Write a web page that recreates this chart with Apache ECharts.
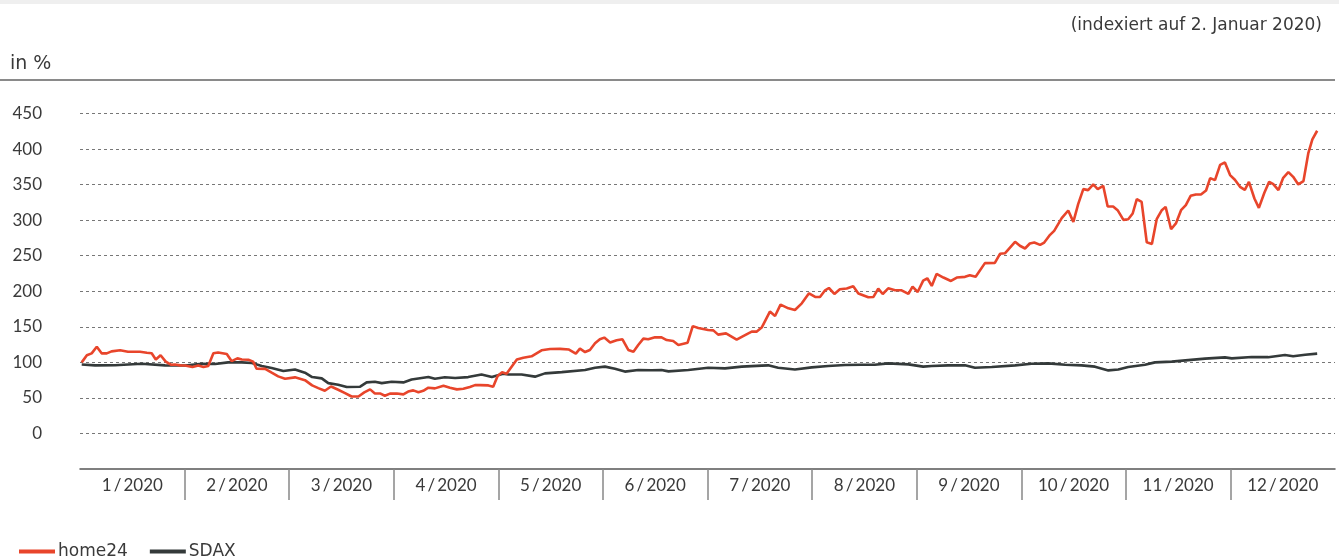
<!DOCTYPE html>
<html>
<head>
<meta charset="utf-8">
<script src="https://cdn.jsdelivr.net/npm/echarts@6/dist/echarts.min.js"></script>
<style>
  html, body { margin: 0; padding: 0; background: #fff; }
  #chart { width: 1339px; height: 556px; }
</style>
</head>
<body>
<div id="chart"></div>
<script>
// Kursentwicklung 2020, indexiert auf 2. Januar 2020 (x = Tag des Jahres)
var monthLabels = ['1/2020', '2/2020', '3/2020', '4/2020', '5/2020', '6/2020',
                   '7/2020', '8/2020', '9/2020', '10/2020', '11/2020', '12/2020'];

var home24Day = [0.5, 2.0, 3.4, 4.9, 6.3, 7.8, 9.2, 11.7, 14.0, 17.5, 19.5, 20.9, 22.1, 23.5, 25.0, 26.5, 27.7, 29.2,
  30.6, 32.8, 34.5, 36.0, 37.4, 38.9, 40.3, 42.8, 44.2, 45.9, 47.2, 49.1, 50.5, 51.5, 54.0, 55.9, 57.8, 59.8,
  62.7, 65.6, 67.7, 69.5, 71.4, 73.2, 75.3, 77.3, 79.2, 81.2, 82.9, 84.6, 86.0, 87.5, 88.9, 90.4, 92.4, 94.3,
  95.7, 97.2, 98.7, 100.1, 101.6, 103.5, 106.0, 107.9, 109.9, 111.8, 113.7, 115.2, 116.7, 119.1, 120.5, 121.8,
  123.1, 124.4, 127.4, 129.3, 131.7, 134.6, 137.1, 140.0, 142.6, 144.6, 145.8, 147.3, 148.7, 150.2, 151.6,
  152.9, 154.6, 156.5, 158.2, 159.9, 161.4, 162.8, 164.3, 165.7, 167.7, 169.6, 171.1, 173.0, 174.5, 177.2,
  178.7, 180.3, 183.2, 184.7, 186.1, 188.4, 191.5, 193.4, 195.9, 197.3, 198.8, 201.2, 202.7, 204.3, 206.6,
  208.5, 210.5, 212.6, 214.4, 215.8, 217.3, 218.4, 220.0, 221.6, 223.6, 225.5, 227.0, 229.9, 231.4, 232.8,
  234.1, 235.7, 237.7, 239.6, 241.6, 242.8, 244.3, 245.9, 247.1, 248.4, 249.8, 251.8, 254.0, 255.7, 258.1,
  259.5, 261.2, 263.9, 266.8, 268.3, 269.8, 272.7, 274.1, 275.6, 277.0, 278.3, 280.0, 281.2, 282.9, 284.1,
  286.3, 288.2, 289.7, 291.1, 292.6, 294.0, 295.5, 296.8, 298.4, 299.7, 301.3, 302.6, 304.3, 305.7, 307.0,
  308.2, 309.6, 311.1, 312.6, 314.0, 315.5, 316.6, 318.2, 319.6, 321.1, 322.5, 323.9, 325.4, 326.9, 328.4,
  329.6, 331.0, 332.5, 333.9, 335.4, 336.8, 338.3, 339.7, 340.9, 342.5, 343.8, 345.4, 346.8, 348.0, 349.5,
  350.9, 352.4, 353.8, 355.3, 356.8, 358.2, 359.4, 360.8];
var home24Value = [100, 110, 112.7, 122, 112.7, 112.7, 115.5, 117, 115, 115, 113.6, 112.7, 104, 110, 101, 96.7, 97, 95.8,
  95.5, 93.4, 95.5, 93.4, 95, 112.7, 114, 111.7, 101.8, 105.6, 104, 103.6, 101, 91, 90.8, 85.5, 80.3, 77,
  78.9, 75, 67.6, 63.8, 60, 66, 61.5, 56.8, 52, 52, 57.7, 62, 56.3, 56.3, 53, 56, 56.3, 55,
  59, 60.6, 58, 60, 64.4, 63.4, 67.2, 64.4, 62, 62.8, 65.3, 68, 68, 67.6, 65.8, 80.7,
  86, 84, 104, 106.6, 108.5, 117, 118.7, 119, 118, 112.3, 119.3, 114.5, 117.4, 126.8, 132.4,
  134.8, 128, 131, 132.4, 117.4, 115, 124.4, 133.4, 132.4, 135.2, 135.2, 131.4, 130, 124.4, 127.7,
  151, 148.3, 145.5, 145, 139, 140.8, 132, 137, 143.2, 143.2, 148.9, 171.4, 165.2, 181.2, 176,
  173.7, 183, 197.2, 192, 192, 201.4, 204.6, 196.2, 202.8, 204, 207, 196.8, 191.5, 192, 203.8,
  196.2, 204.2, 201.4, 201.4, 196.2, 206.6, 199, 215, 218.3, 207.5, 224.4, 219.3, 214.5, 219.3, 220.3,
  222.5, 220.3, 239.6, 240, 252.7, 253.6, 269.5, 264, 260.2, 267.2, 268.6, 265.2, 268.6, 279.4, 285,
  302.8, 313.6, 297.6, 322.5, 343.7, 342.3, 350.3, 343.7, 348.3, 319.3, 319.3, 314.1, 300.4, 301.4, 309.4,
  329.6, 325.8, 269, 266.6, 301.4, 314.1, 318.7, 287.3, 295.4, 314.1, 321.1, 334.2, 336.2, 336.2, 341.8,
  359.2, 356.3, 377.9, 381.2, 363.4, 356.8, 346.9, 342.7, 354, 330.5, 317.3, 338.6, 354, 350.7, 342.3,
  359.6, 367.6, 361, 350.3, 354.9, 393.9, 413.7, 425.8];

var sdaxDay = [0.5, 4.4, 10.2, 18.0, 24.8, 30.6, 35.5, 39.4, 43.2, 47.2, 50.1, 53.0, 55.9, 59.3, 62.7, 65.6,
  67.7, 70.5, 72.4, 75.3, 77.8, 81.7, 83.6, 86.0, 88.0, 90.9, 94.3, 96.7, 101.6, 103.5, 106.4, 109.4,
  113.2, 117.1, 120.1, 123.4, 124.9, 128.8, 132.7, 135.6, 140.5, 147.3, 150.2, 153.1, 156.0, 158.9,
  162.8, 166.7, 169.6, 171.6, 177.4, 183.2, 188.1, 193.0, 198.8, 200.7, 203.6, 208.5, 213.4, 218.2,
  223.1, 228.0, 231.8, 235.7, 241.6, 245.9, 248.4, 253.2, 258.1, 261.0, 265.9, 272.7, 277.5, 282.4,
  287.3, 292.1, 296.0, 299.9, 302.8, 305.7, 310.6, 313.5, 318.4, 323.2, 328.1, 333.9, 335.9, 341.7,
  346.5, 351.4, 353.8, 357.3, 360.8];
var sdaxValue = [97, 95.8, 96, 98, 95.8, 95.5, 98, 97.7, 100, 100, 99, 94.8, 92, 87.8, 90, 85.5,
  79.3, 77.5, 70.8, 68.6, 65.3, 65.8, 71.8, 72.8, 70.8, 72.8, 71.8, 76, 79.3, 77, 79, 78,
  79.3, 83, 79.3, 84, 83, 83, 79.9, 84.5, 86.3, 89.2, 92.5, 94, 91, 87,
  89.2, 89, 89.2, 87.3, 89.2, 92.5, 91.5, 94, 95.4, 95.8, 92.5, 90, 93, 94.8,
  96.2, 96.7, 96.7, 98.6, 97.2, 94, 94.8, 95.8, 96, 92.5, 93.4, 95.8, 98, 98.6,
  96.7, 95.8, 94, 88.7, 90, 93.4, 96.7, 100, 101, 103.2, 105.2, 107, 105.6, 107.5,
  107.3, 110.3, 108.5, 110.8, 112.3];

function zip(xs, ys) {
  return xs.map(function (x, i) { return [x, ys[i]]; });
}

// Monate als gleich breite Abschnitte
var monthWidth = 366 / 12;
var monthBounds = [], monthCenters = [];
for (var m = 0; m < 12; m++) {
  if (m > 0) monthBounds.push(m * monthWidth);
  monthCenters.push((m + 0.5) * monthWidth);
}

var RED = '#e8452b', DARK = '#343a3a', TXT = '#3a3a3a';
var wide = "'DejaVu Sans', sans-serif";
var chart = echarts.init(document.getElementById('chart'));

var option = {
  animation: false,
  backgroundColor: '#fff',
  textStyle: { fontFamily: 'Lato, sans-serif' },
  graphic: [
    { type: 'rect', left: 0, top: 0, shape: { width: 1339, height: 4 }, style: { fill: '#efefef' } },
    { type: 'text', right: 17, top: 17, style: { text: '(indexiert auf 2. Januar 2020)', fill: TXT,
        font: '17px ' + wide } },
    { type: 'text', left: 10, top: 55, style: { text: 'in %', fill: TXT, font: '19px ' + wide } },
    { type: 'line', shape: { x1: 0, y1: 80, x2: 1335, y2: 80 }, style: { stroke: '#8a8a8a', lineWidth: 2 }, z: 100 }
  ],
  legend: {
    left: 14, top: 538,
    itemWidth: 36, itemHeight: 4, itemGap: 22,
    icon: 'rect',
    textStyle: { fontFamily: wide, fontSize: 17, color: TXT, padding: [0, 0, 0, -2] },
    data: ['home24', 'SDAX']
  },
  grid: { left: 80, right: 4, top: 78, bottom: 87 },
  xAxis: {
    type: 'value', min: 0, max: 366,
    axisLine: { show: true, onZero: false, lineStyle: { color: '#555', width: 1.5 } },
    axisTick: { show: true, length: 31, customValues: monthBounds, lineStyle: { color: '#888', width: 1.5 } },
    axisLabel: {
      customValues: monthCenters, margin: 8, fontSize: 17, color: TXT,
      formatter: function (v) { return monthLabels[Math.floor(v / monthWidth)].replace('/', '\u2009/\u2009'); }
    },
    splitLine: { show: false }
  },
  yAxis: {
    type: 'value', min: -50, max: 500, interval: 50,
    axisLine: { show: false }, axisTick: { show: false },
    axisLabel: {
      margin: 38, fontSize: 17, color: TXT,
      formatter: function (v) { return (v < 0 || v > 450) ? '' : String(v); }
    },
    splitLine: { showMinLine: false, showMaxLine: false, lineStyle: { color: '#777', type: [3, 3], width: 1 } }
  },
  series: [
    { name: 'home24', type: 'line', data: zip(home24Day, home24Value), showSymbol: false,
      color: RED, lineStyle: { width: 2.6, color: RED }, z: 3 },
    { name: 'SDAX', type: 'line', data: zip(sdaxDay, sdaxValue), showSymbol: false,
      color: DARK, lineStyle: { width: 2.6, color: DARK }, z: 2 }
  ]
};
chart.setOption(option);
</script>
</body>
</html>
